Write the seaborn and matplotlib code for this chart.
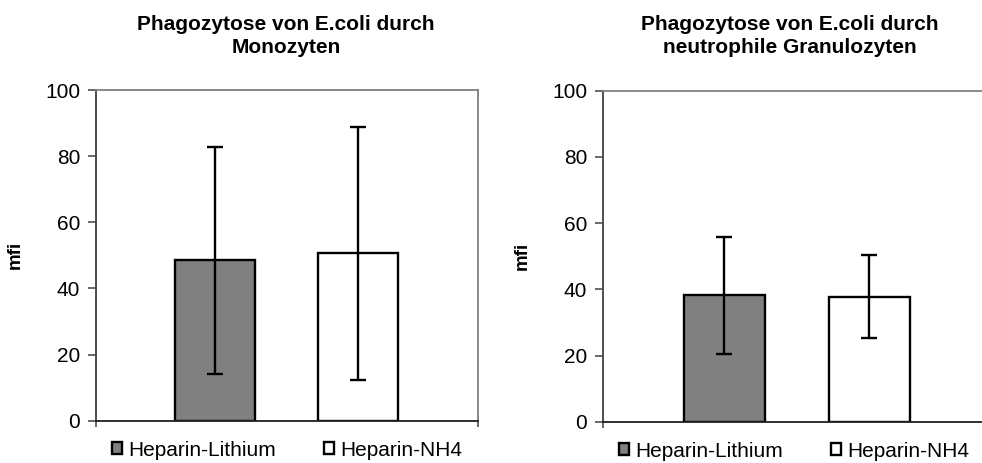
import matplotlib
matplotlib.use("Agg")
import matplotlib.pyplot as plt
import seaborn as sns
import pandas as pd

# --- data -------------------------------------------------------------
series = ["Heparin-Lithium", "Heparin-NH4"]
mono_mean = [48.5, 50.6]
mono_sd = [34.4, 38.3]
neutro_mean = [38.2, 37.8]
neutro_sd = [17.6, 12.6]
titles = [
    "Phagozytose von E.coli durch\nMonozyten",
    "Phagozytose von E.coli durch\nneutrophile Granulozyten",
]
y_ticks = [0, 20, 40, 60, 80, 100]
y_label = "mfi"
bar_colors = ["#808080", "#ffffff"]

# --- style ------------------------------------------------------------
sns.set_style("white")
plt.rcParams["font.family"] = ["Liberation Sans", "DejaVu Sans"]
plt.rcParams.update({
    "text.color": "black",
    "axes.labelcolor": "black",
    "xtick.labelcolor": "black",
    "ytick.labelcolor": "black",
})

W, H = 982, 463
fig = plt.figure(figsize=(W / 100, H / 100), dpi=100)


def px_axes(x0, x1, ytop, ybot):
    return fig.add_axes([x0 / W, (H - ybot) / H, (x1 - x0) / W, (ybot - ytop) / H])


def panel(ax, means, sds, title, xlim, title_x):
    df = pd.DataFrame({"Gruppe": series, "Wert": means})
    sns.barplot(
        data=df, x="Gruppe", y="Wert", hue="Gruppe",
        palette=dict(zip(series, bar_colors)), order=series, hue_order=series,
        width=0.56, errorbar=None, legend=False,
        edgecolor="black", linewidth=1.7, ax=ax,
    )
    bars = list(ax.patches)
    for p, m, s in zip(bars, means, sds):
        xc = p.get_x() + p.get_width() / 2
        ax.errorbar(xc, m, yerr=s, fmt="none", ecolor="black",
                    elinewidth=1.7, capsize=5.5, capthick=1.7, zorder=5)

    ax.set_ylim(0, 100)
    ax.set_yticks(y_ticks)
    ax.set_xlim(*xlim)
    ax.set_xticks(list(xlim))
    ax.set_xticklabels(["", ""])
    ax.set_xlabel("")
    ax.set_ylabel(y_label, fontsize=13.5, fontweight="bold")
    ax.yaxis.set_label_coords(-0.19, 0.5)

    for side in ("top", "right"):
        ax.spines[side].set_color("#808080")
        ax.spines[side].set_linewidth(1.3)
    ax.spines["left"].set_color("#404040")
    ax.spines["bottom"].set_color("#202020")
    for side in ("left", "bottom"):
        ax.spines[side].set_linewidth(1.3)

    ax.tick_params(axis="y", direction="out", length=5.5, width=1.1,
                   color="#404040", labelsize=15, pad=6.0, left=True)
    ax.tick_params(axis="x", direction="out", length=4, width=1.1,
                   color="#404040", bottom=True)

    ax.legend(bars, series, loc="center", bbox_to_anchor=(0.5, -0.089),
              ncol=2, frameon=False, fontsize=15, handlelength=0.5,
              handleheight=0.5, handletextpad=0.3, columnspacing=2.3,
              borderaxespad=0)

    fig.text(title_x / W, 1 - 36 / H, title, ha="center", va="center",
             fontsize=15, fontweight="bold", linespacing=1.25)


ax1 = px_axes(96, 478, 90, 420.7)
ax2 = px_axes(603, 985, 90.7, 421.7)

panel(ax1, mono_mean, mono_sd, titles[0], (-0.832, 1.839), 286)
panel(ax2, neutro_mean, neutro_sd, titles[1], (-0.837, 1.80), 789.5)

fig.savefig("out.png", dpi=100, facecolor="white")
